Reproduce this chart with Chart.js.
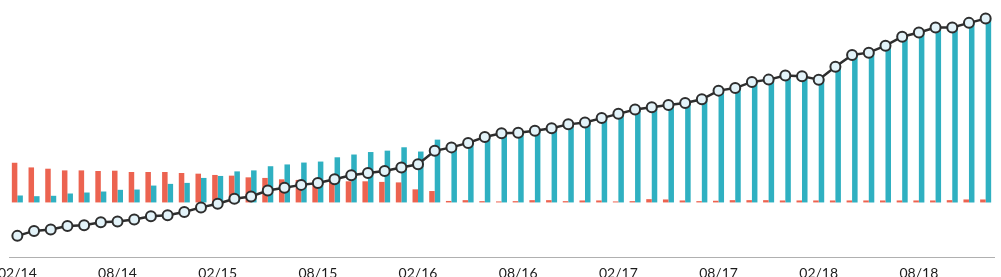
<!DOCTYPE html>
<html>
<head>
<meta charset="utf-8">
<script src="https://cdn.jsdelivr.net/npm/chart.js@4"></script>
<style>
  html, body { margin: 0; padding: 0; background: #ffffff; }
  #wrap { width: 1001px; height: 277px; position: relative; }
</style>
</head>
<body>
<div id="wrap"><canvas id="c"></canvas></div>
<script>
const months = ["02/14","03/14","04/14","05/14","06/14","07/14","08/14","09/14","10/14","11/14","12/14","01/15",
  "02/15","03/15","04/15","05/15","06/15","07/15","08/15","09/15","10/15","11/15","12/15","01/16",
  "02/16","03/16","04/16","05/16","06/16","07/16","08/16","09/16","10/16","11/16","12/16","01/17",
  "02/17","03/17","04/17","05/17","06/17","07/17","08/17","09/17","10/17","11/17","12/17","01/18",
  "02/18","03/18","04/18","05/18","06/18","07/18","08/18","09/18","10/18","11/18","12/18"];

const redSeries = [40,35.3,34,32.3,32.3,31.7,32,30.7,30.7,30.7,29.7,29,
  27.7,27,25.3,24.7,23.3,22.7,22,21.5,21.3,21.3,20.7,20.2,
  13.2,11.5,1.5,2.3,1.3,1,1.3,2.3,2.3,1.3,2,2,
  1,1.3,3.3,3,2,1.3,1.7,2.3,2.3,2.3,2,2,
  2,2,2,2,2,2,2,2,2.3,3,3];

const tealSeries = [7,6.3,6.7,9,10,11,12.7,13,17,18.7,19.7,24.7,
  26.7,31.3,32.3,36.5,38.3,40.2,41.2,45.5,48.3,50.8,52.2,55.6,
  51.3,63.3,57,61,67,70,71,73,75,79,81,86,
  90,94,96,99,101,105,113,116,122,124,128,128,
  124,137,149,151,158,167,171,176,176,181,185];

const lineSeries = [-33.7,-28.7,-27.3,-23.7,-23,-20,-19.3,-17.3,-14,-13,-9.7,-5,
  -1.3,3.7,6,12,14.7,17.7,19.7,23.3,27.3,29.7,31.7,35.3,
  38.5,52,55.5,60,66,69.7,70.3,72.3,74.7,78.7,80.5,85,
  89.3,93.7,96,98.3,100.3,104,112.7,115.3,121.5,123.8,128,127.3,
  123.7,136.7,148.7,151,158,167,171.3,176.3,176.3,181,185.3];

const labelEvery = 6;

new Chart(document.getElementById('c'), {
  type: 'bar',
  data: {
    labels: months,
    datasets: [
      {
        type: 'line',
        data: lineSeries,
        borderColor: '#2e2e2e',
        borderWidth: 2.5,
        pointRadius: 5,
        pointBorderWidth: 2,
        pointBackgroundColor: '#e3f3f9',
        pointBorderColor: '#2e2e2e',
        tension: 0,
        clip: false,
        order: 0
      },
      {
        data: redSeries,
        backgroundColor: '#ec6350',
        borderWidth: 0,
        categoryPercentage: 0.66,
        barPercentage: 1.0,
        clip: false,
        order: 1
      },
      {
        data: tealSeries,
        backgroundColor: '#2fb0c1',
        borderWidth: 0,
        categoryPercentage: 0.66,
        barPercentage: 1.0,
        clip: false,
        order: 1
      }
    ]
  },
  options: {
    responsive: true,
    maintainAspectRatio: false,
    animation: false,
    layout: { padding: { left: 9, right: 4, top: 5, bottom: 0 } },
    plugins: { legend: { display: false }, tooltip: { enabled: false } },
    scales: {
      x: {
        offset: true,
        grid: { display: false },
        border: { display: true, color: '#b0b0b0', width: 1, dash: [2, 2] },
        ticks: {
          autoSkip: false,
          maxRotation: 0,
          minRotation: 0,
          padding: 0,
          color: '#1c1c1c',
          font: { family: 'Lato', size: 14 },
          callback: function(v, i) { return i % labelEvery === 0 ? months[i] : ''; }
        },
        afterFit: function(s) { s.height = 20; s.paddingLeft = 0; s.paddingRight = 0; }
      },
      y: {
        min: -55,
        max: 197,
        display: true,
        ticks: { display: false, stepSize: 50 },
        border: { display: false },
        grid: {
          drawTicks: false,
          tickLength: 0,
          lineWidth: 2,
          color: function(ctx) { return (ctx.tick && ctx.tick.value === 0) ? '#ebebeb' : 'rgba(0,0,0,0)'; }
        },
        afterFit: function(s) { s.width = 0; s.paddingTop = 0; s.paddingBottom = 0; }
      }
    }
  }
});
</script>
</body>
</html>
